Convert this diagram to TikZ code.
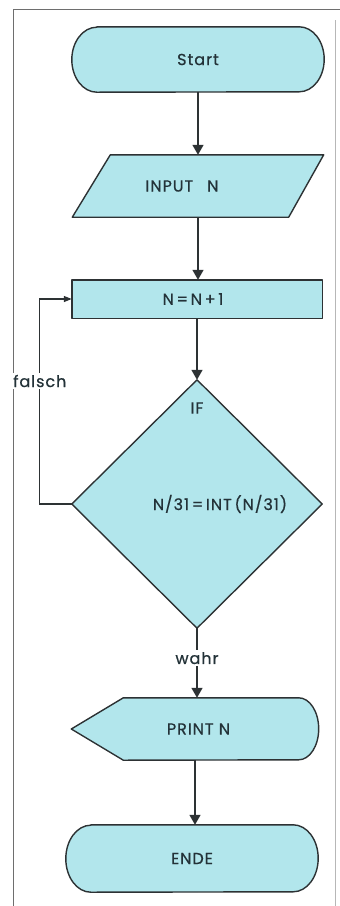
\documentclass[tikz,border=0pt]{standalone}
\usepackage{fontspec}
\setmainfont{Poppins}[LetterSpace=6,FakeBold=0.6]
\usetikzlibrary{arrows.meta,backgrounds}
\definecolor{fillc}{RGB}{178,230,236}
\definecolor{linec}{RGB}{45,50,52}
\definecolor{txtc}{RGB}{35,50,56}
\definecolor{framec}{RGB}{110,110,110}
\begin{document}
\begin{tikzpicture}[x=1pt,y=-1pt,
  box/.style={draw=none,inner sep=0pt,text=txtc,font=\fontsize{16}{18}\selectfont},
  shp/.style={fill=fillc,draw=linec,line width=1.4pt,line join=round},
  arr/.style={draw=linec,line width=1.6pt,-{Triangle[length=10pt,width=11pt]}},
  arrsm/.style={draw=linec,line width=1.2pt,-{Triangle[length=8pt,width=6pt]}},
  lbl/.style={fill=white,inner sep=2pt,text=txtc,font=\fontsize{16}{18}\selectfont}]
\useasboundingbox (0,0) rectangle (340,906);
% frame
\draw[framec,line width=0.8pt] (13,906) -- (13,9) -- (340,9);
\draw[framec!50,line width=0.6pt] (335,20) -- (335,906);
% nodes
\node[box,minimum width=252pt,minimum height=65pt] (start) at (198,59.5) {Start};
\node[box,minimum width=251pt,minimum height=62pt] (inp) at (198,186) {\hspace*{-32pt}INPUT\hspace{14pt}N};
\node[box,minimum width=250pt,minimum height=38pt] (inc) at (197,299) {\hspace*{-8pt}N\,=\,N\,+\,1};
\node[box,minimum width=250pt,minimum height=248pt] (if) at (197,504) {\hspace*{46pt}N/31\,=\,INT\,(N/31)};
\node[box] (iftxt) at (197,408) {IF};
\node[box,minimum width=247pt,minimum height=62pt] (out) at (195,729) {\hspace*{7pt}PRINT N};
\node[box,minimum width=252pt,minimum height=67pt] (ende) at (192,858.5) {ENDE};
% shapes
\begin{scope}[on background layer]
\draw[shp] ([xshift=25pt]start.north west) -- ([xshift=-25pt]start.north east)
  arc[start angle=90,end angle=-90,x radius=25pt,y radius=32.5pt]
  -- ([xshift=25pt]start.south west)
  arc[start angle=270,end angle=90,x radius=25pt,y radius=32.5pt] -- cycle;
\draw[shp] ([xshift=38pt]inp.north west) -- (inp.north east) -- ([xshift=-35pt]inp.south east) -- (inp.south west) -- cycle;
\draw[shp] (inc.north west) rectangle (inc.south east);
\draw[shp] (if.north) -- (if.east) -- (if.south) -- (if.west) -- cycle;
\draw[shp] (out.west) -- ([xshift=52pt]out.north west) -- ([xshift=-20pt]out.north east)
  arc[start angle=90,end angle=-90,x radius=20pt,y radius=31pt]
  -- ([xshift=52pt]out.south west) -- cycle;
\draw[shp] ([xshift=25pt]ende.north west) -- ([xshift=-25pt]ende.north east)
  arc[start angle=90,end angle=-90,x radius=25pt,y radius=33.5pt]
  -- ([xshift=25pt]ende.south west)
  arc[start angle=270,end angle=90,x radius=25pt,y radius=33.5pt] -- cycle;
\end{scope}
% connectors
\draw[arr] (start.south) -- (start.south |- inp.north);
\draw[arr] (inp.south) -- (inp.south |- inc.north);
\draw[arr] (inc.south) -- (inc.south |- if.north);
\draw[arr] (if.south) -- node[lbl,pos=0.43]{wahr} (if.south |- out.north);
\draw[arr] (out.south) -- (out.south |- ende.north);
\coordinate (lp) at ([xshift=-32pt]inc.west);
\draw[arrsm] (if.west) -| node[lbl,pos=0.8]{falsch} (lp) -- (inc.west);
\end{tikzpicture}
\end{document}
